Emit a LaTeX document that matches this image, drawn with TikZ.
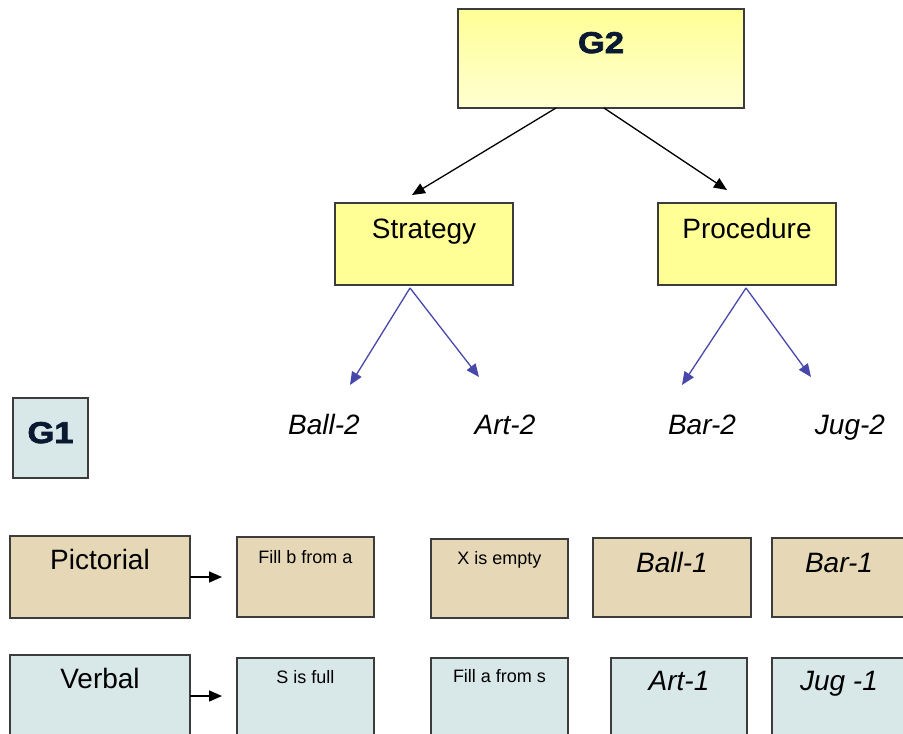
\documentclass[tikz,border=0pt]{standalone}
\usepackage{fontspec}
\setmainfont{Liberation Sans}
\newfontfamily\heavyfont[FakeStretch=1.15,FakeBold=2.5]{Liberation Sans}
\usetikzlibrary{arrows.meta}
\definecolor{edge}{RGB}{60,60,60}
\definecolor{pale}{RGB}{255,255,150}
\definecolor{paler}{RGB}{255,255,210}
\definecolor{sand}{RGB}{230,216,182}
\definecolor{ice}{RGB}{216,231,232}
\definecolor{navy}{RGB}{10,25,50}
\definecolor{link}{RGB}{72,72,170}
\tikzset{
  box/.style={draw=edge,line width=1.2pt,inner sep=0pt,outer sep=0pt,anchor=north west},
  big/.style={font=\fontsize{28}{30}\selectfont},
  small/.style={font=\fontsize{18}{20}\selectfont},
  slant/.style={font=\fontsize{28}{30}\selectfont\itshape},
  head/.style={font=\heavyfont\bfseries\fontsize{30}{32}\selectfont,text=navy},
  leaf/.style={font=\fontsize{28}{30}\selectfont\itshape,anchor=base},
  tree/.style={-{Triangle[length=13pt,width=11pt]},line width=1.3pt},
}
\begin{document}
\begin{tikzpicture}[x=1pt,y=-1pt]
\useasboundingbox (0,0) rectangle (903,734);
\clip (0,0) rectangle (903,734);
\node[box,top color=pale,bottom color=paler,head,minimum width=286pt,text height=44pt,text depth=55pt] (g2) at (458,9) {G2};
\node[box,fill=pale,big,minimum width=178pt,text height=35pt,text depth=47pt] (strategy) at (335,203) {Strategy};
\node[box,fill=pale,big,minimum width=178pt,text height=35pt,text depth=47pt] (procedure) at (658,203) {Procedure};
\node[leaf] (ball2) at (324,434) {Ball-2};
\node[leaf] (art2) at (505,434) {Art-2};
\node[leaf] (bar2) at (702,434) {Bar-2};
\node[leaf] (jug2) at (850,434) {Jug-2};
\node[box,fill=ice,head,minimum width=75pt,text height=45pt,text depth=35pt] (g1) at (13,398) {G1};
\node[box,fill=sand,big,minimum width=180pt,text height=33pt,text depth=49pt] (pictorial) at (10,536) {Pictorial};
\node[box,fill=sand,small,minimum width=137pt,text height=26pt,text depth=54pt] (fillba) at (237,537) {Fill b from a};
\node[box,fill=sand,small,minimum width=137pt,text height=25pt,text depth=54pt] (xempty) at (431,539) {X is empty};
\node[box,fill=sand,slant,minimum width=158pt,text height=34pt,text depth=45pt] (ball1) at (593,538) {Ball-1};
\node[box,fill=sand,slant,minimum width=134pt,text height=34pt,text depth=45pt] (bar1) at (772,538) {Bar-1};
\node[box,fill=ice,big,minimum width=180pt,text height=33pt,text depth=49pt] (verbal) at (10,655) {Verbal};
\node[box,fill=ice,small,minimum width=137pt,text height=25pt,text depth=55pt] (sfull) at (237,658) {S is full};
\node[box,fill=ice,small,minimum width=137pt,text height=24pt,text depth=56pt] (fillas) at (431,658) {Fill a from s};
\node[box,fill=ice,slant,minimum width=136pt,text height=32pt,text depth=48pt] (art1) at (611,658) {Art-1};
\node[box,fill=ice,slant,minimum width=134pt,text height=32pt,text depth=48pt] (jug1) at (772,658) {Jug -1};
\draw[tree] ([xshift=-45pt]g2.south) -- ([xshift=-12pt,yshift=8pt]strategy.north);
\draw[tree] ([xshift=3pt]g2.south) -- ([xshift=-20pt,yshift=13pt]procedure.north);
\draw[tree,link] ([xshift=-14pt,yshift=-3pt]strategy.south) -- ([xshift=26pt,yshift=49pt]ball2.base);
\draw[tree,link] ([xshift=-14pt,yshift=-3pt]strategy.south) -- ([xshift=-26pt,yshift=57pt]art2.base);
\draw[tree,link] ([xshift=-1pt,yshift=-3pt]procedure.south) -- ([xshift=-20pt,yshift=49pt]bar2.base);
\draw[tree,link] ([xshift=-1pt,yshift=-3pt]procedure.south) -- ([xshift=-39pt,yshift=57pt]jug2.base);
\draw[tree,line width=1.5pt] (pictorial.east) -- ([xshift=-15pt]pictorial.east -| fillba.west);
\draw[tree,line width=1.5pt] (verbal.east) -- ([xshift=-15pt]verbal.east -| sfull.west);
\end{tikzpicture}
\end{document}
